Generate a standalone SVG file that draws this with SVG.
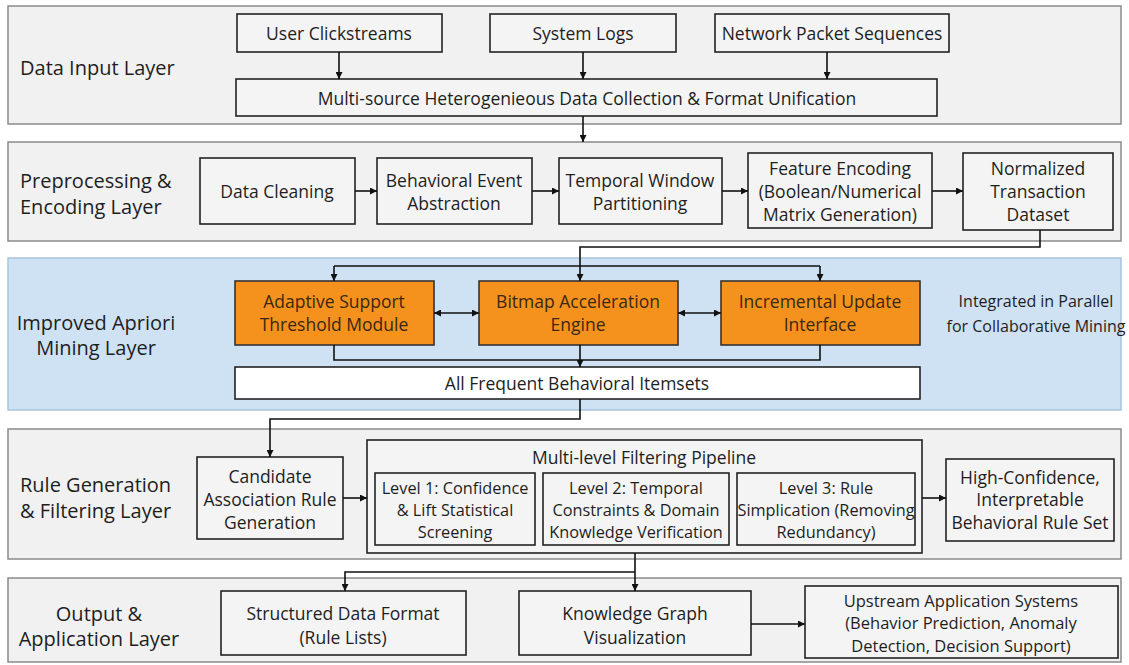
<svg xmlns="http://www.w3.org/2000/svg" width="1129" height="665" viewBox="0 0 1129 665">
<style>
  text { font-family: "Open Sans", "Noto Sans", sans-serif; fill: #1e1e1e; text-anchor: middle; dominant-baseline: central; }
  .t { font-size: 17.5px; }
  .tu { font-size: 16.5px; }
  .tl { font-size: 16.3px; }
  .ti { font-size: 16px; }
  .lab { font-size: 20px; }
  .labl { font-size: 20px; text-anchor: start; }
  .layer { fill: #f1f1f1; stroke: #8a8a8a; stroke-width: 1.5; }
  .layerb { fill: #cfe2f3; stroke: #a8c3dc; stroke-width: 1.5; }
  .box { fill: #f4f4f4; stroke: #222; stroke-width: 1.6; }
  .wbox { fill: #ffffff; stroke: #222; stroke-width: 1.6; }
  .obox { fill: #f5921e; stroke: #333; stroke-width: 1.6; }
  .ot { fill: #3a2810; font-size: 17.5px; }
  .c { fill: none; stroke: #111; stroke-width: 1.6; }
</style>
<defs>
  <marker id="ah" viewBox="0 0 10 10" refX="10" refY="5" markerWidth="7" markerHeight="7" markerUnits="userSpaceOnUse" orient="auto-start-reverse">
    <path d="M0,0 L10,5 L0,10 z" fill="#111"/>
  </marker>
</defs>

<g id="layer1">
  <rect class="layer" x="8" y="6" width="1113" height="118"/>
  <text class="labl" x="20" y="67">Data Input Layer</text>
</g>
<g id="layer2">
  <rect class="layer" x="8" y="142" width="1113" height="99"/>
  <text class="labl" x="20" y="180">Preprocessing &amp;</text>
  <text class="labl" x="20" y="206">Encoding Layer</text>
</g>
<g id="layer3">
  <rect class="layerb" x="8" y="258" width="1113" height="152"/>
  <text class="lab" x="96" y="322">Improved Apriori</text>
  <text class="lab" x="96" y="347">Mining Layer</text>
  <text class="ti" x="1036" y="301">Integrated in Parallel</text>
  <text class="ti" x="1036" y="326">for Collaborative Mining</text>
</g>
<g id="layer4">
  <rect class="layer" x="8" y="429" width="1113" height="130"/>
  <text class="labl" x="20" y="484">Rule Generation</text>
  <text class="labl" x="20" y="510">&amp; Filtering Layer</text>
</g>
<g id="layer5">
  <rect class="layer" x="8" y="578" width="1113" height="84"/>
  <text class="lab" x="99" y="613">Output &amp;</text>
  <text class="lab" x="99" y="638">Application Layer</text>
</g>

<g id="n-click"><rect class="box" x="237" y="14" width="205" height="38"/><text class="t" x="339" y="33">User Clickstreams</text></g>
<g id="n-logs"><rect class="box" x="490" y="14" width="186" height="38"/><text class="t" x="583" y="33">System Logs</text></g>
<g id="n-net"><rect class="box" x="715" y="14" width="234" height="38"/><text class="t" x="832" y="33">Network Packet Sequences</text></g>
<g id="n-multi"><rect class="box" x="236" y="79" width="701" height="37"/><text class="t" x="587" y="98">Multi-source Heterogenieous Data Collection &amp; Format Unification</text></g>

<g id="n-clean"><rect class="box" x="200" y="158" width="155" height="66"/><text class="t" x="277" y="191">Data Cleaning</text></g>
<g id="n-event"><rect class="box" x="377" y="158" width="155" height="66"/><text class="t" x="454" y="180">Behavioral Event</text><text class="t" x="454" y="203">Abstraction</text></g>
<g id="n-window"><rect class="box" x="559" y="158" width="163" height="66"/><text class="t" x="640" y="180">Temporal Window</text><text class="t" x="640" y="203">Partitioning</text></g>
<g id="n-feat"><rect class="box" x="748" y="153" width="184" height="75"/><text class="t" x="840" y="168">Feature Encoding</text><text class="t" x="840" y="191">(Boolean/Numerical</text><text class="t" x="840" y="214">Matrix Generation)</text></g>
<g id="n-norm"><rect class="box" x="963" y="153" width="150" height="77"/><text class="t" x="1038" y="168">Normalized</text><text class="t" x="1038" y="191">Transaction</text><text class="t" x="1038" y="214">Dataset</text></g>

<g id="n-adapt"><rect class="obox" x="235" y="281" width="199" height="64"/><text class="ot" x="334" y="301">Adaptive Support</text><text class="ot" x="334" y="324">Threshold Module</text></g>
<g id="n-bitmap"><rect class="obox" x="479" y="281" width="199" height="64"/><text class="ot" x="578" y="301">Bitmap Acceleration</text><text class="ot" x="578" y="324">Engine</text></g>
<g id="n-incr"><rect class="obox" x="721" y="281" width="199" height="64"/><text class="ot" x="820" y="301">Incremental Update</text><text class="ot" x="820" y="324">Interface</text></g>
<g id="n-freq"><rect class="wbox" x="235" y="367" width="685" height="32"/><text class="t" x="577" y="383">All Frequent Behavioral Itemsets</text></g>

<g id="n-cand"><rect class="box" x="197" y="457" width="146" height="82"/><text class="t" x="270" y="476">Candidate</text><text class="t" x="270" y="499">Association Rule</text><text class="t" x="270" y="522">Generation</text></g>
<g id="n-pipe"><rect class="box" x="367" y="440" width="555" height="113"/><text class="t" x="644" y="457">Multi-level Filtering Pipeline</text></g>
<g id="n-lv1"><rect class="box" x="375" y="473" width="160" height="72"/><text class="tl" x="455" y="488">Level 1: Confidence</text><text class="tl" x="455" y="510">&amp; Lift Statistical</text><text class="tl" x="455" y="532">Screening</text></g>
<g id="n-lv2"><rect class="box" x="543" y="473" width="186" height="72"/><text class="tl" x="636" y="488">Level 2: Temporal</text><text class="tl" x="636" y="510">Constraints &amp; Domain</text><text class="tl" x="636" y="532">Knowledge Verification</text></g>
<g id="n-lv3"><rect class="box" x="737" y="473" width="178" height="72"/><text class="tl" x="826" y="488">Level 3: Rule</text><text class="tl" x="826" y="510">Simplication (Removing</text><text class="tl" x="826" y="532">Redundancy)</text></g>
<g id="n-high"><rect class="box" x="946" y="459" width="168" height="82"/><text class="t" x="1030" y="477">High-Confidence,</text><text class="t" x="1030" y="499">Interpretable</text><text class="t" x="1030" y="522">Behavioral Rule Set</text></g>

<g id="n-struct"><rect class="box" x="221" y="591" width="245" height="64"/><text class="t" x="343" y="613">Structured Data Format</text><text class="t" x="343" y="637">(Rule Lists)</text></g>
<g id="n-kg"><rect class="box" x="519" y="591" width="232" height="64"/><text class="t" x="635" y="613">Knowledge Graph</text><text class="t" x="635" y="637">Visualization</text></g>
<g id="n-up"><rect class="box" x="805" y="586" width="313" height="72"/><text class="tu" x="961" y="600">Upstream Application Systems</text><text class="tu" x="961" y="622.5">(Behavior Prediction, Anomaly</text><text class="tu" x="961" y="645">Detection, Decision Support)</text></g>

<g id="connectors">
  <path class="c" d="M339,52 V79" marker-end="url(#ah)"/>
  <path class="c" d="M583,52 V79" marker-end="url(#ah)"/>
  <path class="c" d="M827,52 V79" marker-end="url(#ah)"/>
  <path class="c" d="M583,116 V142" marker-end="url(#ah)"/>
  <path class="c" d="M355,191 H377" marker-end="url(#ah)"/>
  <path class="c" d="M532,191 H559" marker-end="url(#ah)"/>
  <path class="c" d="M722,191 H748" marker-end="url(#ah)"/>
  <path class="c" d="M932,191 H963" marker-end="url(#ah)"/>
  <path class="c" d="M1040,230 V247 H580 V281" marker-end="url(#ah)"/>
  <path class="c" d="M334,266 H820"/>
  <path class="c" d="M334,266 V281" marker-end="url(#ah)"/>
  <path class="c" d="M820,266 V281" marker-end="url(#ah)"/>
  <path class="c" d="M434,313 H479" marker-start="url(#ah)" marker-end="url(#ah)"/>
  <path class="c" d="M678,313 H721" marker-start="url(#ah)" marker-end="url(#ah)"/>
  <path class="c" d="M334,345 V360 H820 V345"/>
  <path class="c" d="M580,345 V367" marker-end="url(#ah)"/>
  <path class="c" d="M580,399 V419 H270 V457" marker-end="url(#ah)"/>
  <path class="c" d="M343,498 H367" marker-end="url(#ah)"/>
  <path class="c" d="M922,498 H946" marker-end="url(#ah)"/>
  <path class="c" d="M635,553 V591" marker-end="url(#ah)"/>
  <path class="c" d="M635,572 H345 V591" marker-end="url(#ah)"/>
  <path class="c" d="M751,624 H805" marker-end="url(#ah)"/>
</g>
</svg>
